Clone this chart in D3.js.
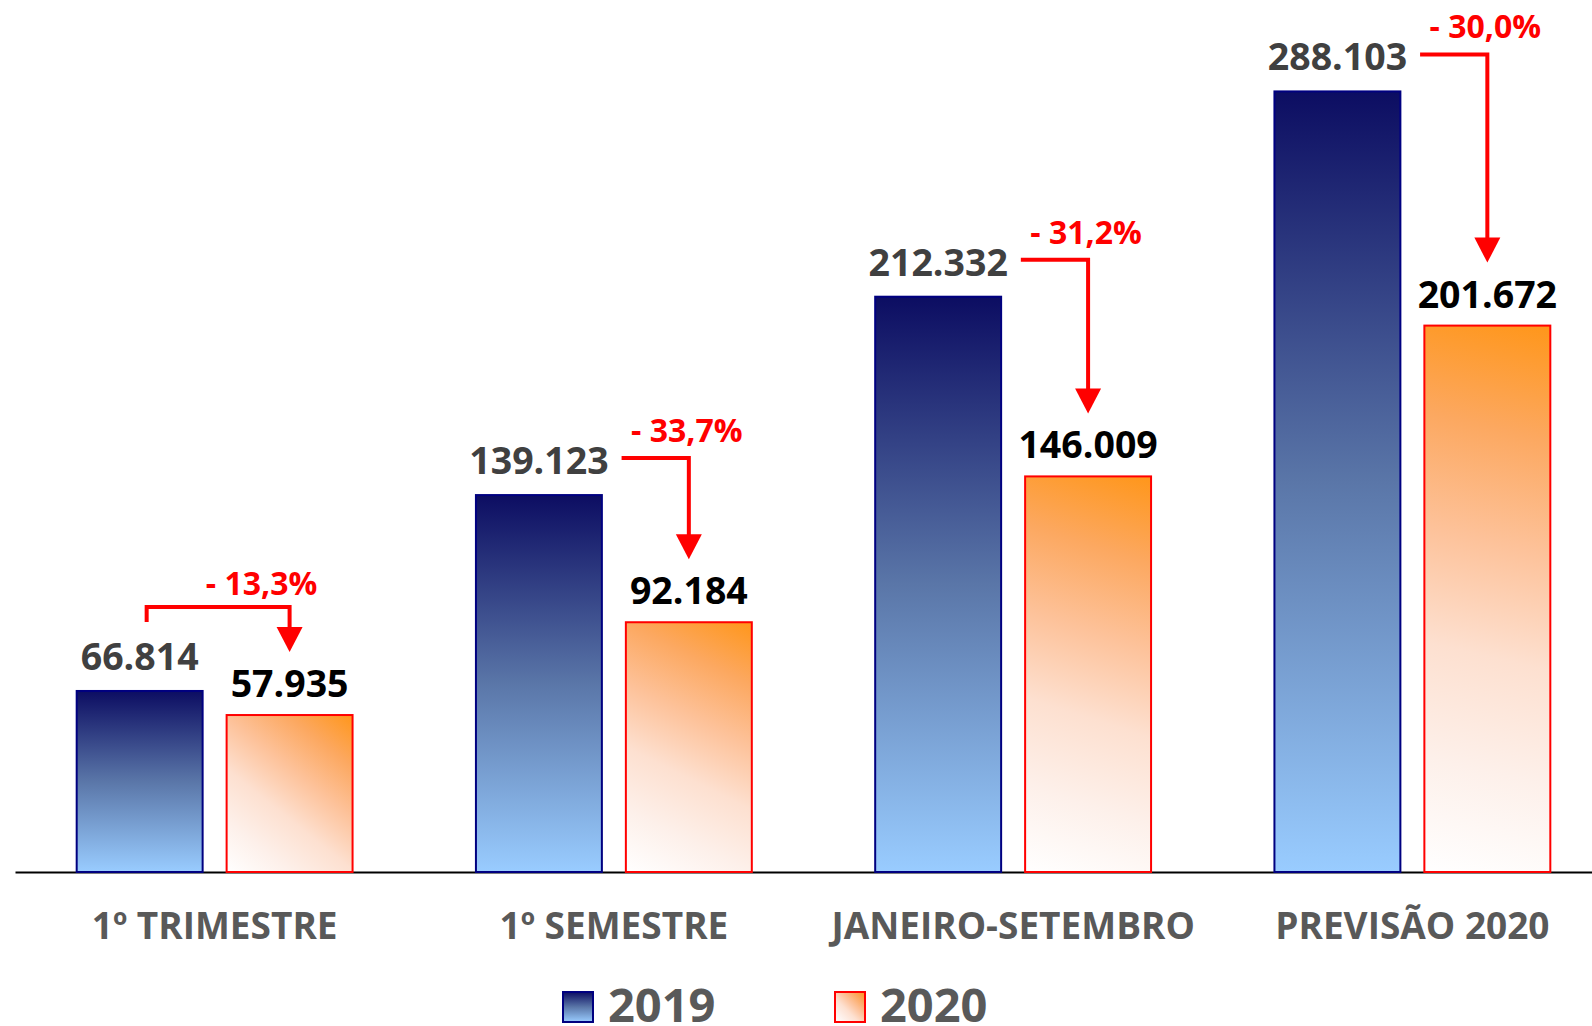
<!DOCTYPE html>
<html>
<head>
<meta charset="utf-8">
<script src="https://cdn.jsdelivr.net/npm/d3@7"></script>
<style>
  html, body { margin: 0; padding: 0; background: #fff; }
  svg { display: block; font-family: "Open Sans", Lato, sans-serif; font-weight: bold; }
</style>
</head>
<body>
<div id="chart"></div>
<script>
const categories = ['1º TRIMESTRE', '1º SEMESTRE', 'JANEIRO-SETEMBRO', 'PREVISÃO 2020'];
const series = ['2019', '2020'];
const values2019 = [66814, 139123, 212332, 288103];
const values2020 = [57935, 92184, 146009, 201672];
const changeLabels = ['- 13,3%', '- 33,7%', '- 31,2%', '- 30,0%'];

const conf = { width: 1592, height: 1026, base: 872, left: 15 };

const fmt = d3.formatLocale({ decimal: ',', thousands: '.', grouping: [3], currency: ['', ''] }).format(',d');

const svg = d3.select('#chart').append('svg')
    .attr('width', conf.width)
    .attr('height', conf.height);

const defs = svg.append('defs');

// vertical navy -> light blue
const g19 = defs.append('linearGradient')
    .attr('id', 'grad2019')
    .attr('x1', 0).attr('y1', 0).attr('x2', 0).attr('y2', 1);
g19.append('stop').attr('offset', '0%').attr('stop-color', '#0c0d62');
g19.append('stop').attr('offset', '50%').attr('stop-color', '#5a76a8');
g19.append('stop').attr('offset', '100%').attr('stop-color', '#99ccff');

function orangeGradient(id, x, y, w, h) {
    // white bottom-left corner -> orange top-right corner
    const g = defs.append('linearGradient')
        .attr('id', id)
        .attr('gradientUnits', 'userSpaceOnUse')
        .attr('x1', x).attr('y1', y + h)
        .attr('x2', x + w).attr('y2', y);
    [[0, '#ffffff'], [0.2, '#fdf0ea'], [0.4, '#fde0d0'], [0.6, '#fdc29a'], [0.8, '#fca860'], [1, '#ff961a']]
        .forEach(s => g.append('stop').attr('offset', s[0]).attr('stop-color', s[1]));
}

const x0 = d3.scaleBand()
    .domain(categories)
    .range([conf.left, 1612])
    .paddingInner(0.309)
    .paddingOuter(0.1545);

const x1 = d3.scaleBand()
    .domain(series)
    .range([0, x0.bandwidth()])
    .paddingInner(0.16);

const y = d3.scaleLinear()
    .domain([0, 320000])
    .range([conf.base, 5]);

const data = categories.map((c, i) => ({
    cat: c, i: i, v19: values2019[i], v20: values2020[i], pct: changeLabels[i]
}));

// axis line + category labels
const axis = svg.append('g')
    .attr('transform', `translate(0,${conf.base})`)
    .call(d3.axisBottom(x0).tickSize(0).tickSizeOuter(0).tickPadding(41));
axis.select('.domain').attr('stroke', '#000').attr('stroke-width', 2);
axis.selectAll('text')
    .attr('fill', '#595959')
    .style('font-family', '"Open Sans", Lato, sans-serif')
    .style('font-weight', 'bold')
    .style('font-size', '37px');

const groups = svg.selectAll('g.group')
    .data(data)
    .join('g')
    .attr('class', 'group')
    .attr('transform', d => `translate(${x0(d.cat)},0)`);

const bw = x1.bandwidth();

groups.append('rect')
    .attr('x', x1('2019'))
    .attr('y', d => y(d.v19))
    .attr('width', bw)
    .attr('height', d => y(0) - y(d.v19))
    .attr('fill', 'url(#grad2019)')
    .attr('stroke', '#000080')
    .attr('stroke-width', 2);

groups.each(function(d) {
    orangeGradient('grad2020_' + d.i, x1('2020'), y(d.v20), bw, y(0) - y(d.v20));
});

groups.append('rect')
    .attr('x', x1('2020'))
    .attr('y', d => y(d.v20))
    .attr('width', bw)
    .attr('height', d => y(0) - y(d.v20))
    .attr('fill', d => `url(#grad2020_${d.i})`)
    .attr('stroke', '#ff0000')
    .attr('stroke-width', 2);

// value labels
const lab19 = groups.append('text')
    .attr('x', x1('2019') + bw / 2)
    .attr('y', d => y(d.v19) - 21)
    .attr('text-anchor', 'middle')
    .attr('fill', '#404040')
    .style('font-size', '37.5px')
    .text(d => fmt(d.v19));

groups.append('text')
    .attr('x', x1('2020') + bw / 2)
    .attr('y', d => y(d.v20) - 18)
    .attr('text-anchor', 'middle')
    .attr('fill', '#000')
    .style('font-size', '37.5px')
    .text(d => fmt(d.v20));

// change arrows
lab19.each(function(d) {
    const g = d3.select(this.parentNode);
    const half = this.getComputedTextLength() / 2;
    const c19 = x1('2019') + bw / 2;
    const vx = x1('2020') + bw / 2;
    const tipY = y(d.v20) - 63;
    let hy = y(d.v19) - 37;
    let path, tx, ty;
    if (hy >= tipY - 25) {
        // not enough room beside the label: route over it
        const top = y(d.v19) - 47;
        hy = top - 37;
        path = `M${c19 + 7},${top - 22}V${hy}H${vx}V${tipY - 24}`;
        tx = vx - 28; ty = hy - 12;
    } else {
        path = `M${c19 + half + 13},${hy}H${vx}V${tipY - 24}`;
        tx = vx - 2; ty = hy - 16;
    }
    g.append('path')
        .attr('d', path)
        .attr('fill', 'none')
        .attr('stroke', '#ff0000')
        .attr('stroke-width', 4);
    g.append('path')
        .attr('d', `M${vx - 13},${tipY - 25}H${vx + 13}L${vx},${tipY}Z`)
        .attr('fill', '#ff0000');
    g.append('text')
        .attr('x', tx)
        .attr('y', ty)
        .attr('text-anchor', 'middle')
        .attr('fill', '#ff0000')
        .style('font-size', '32px')
        .text(d.pct);
});

// legend
const legend = svg.append('g')
    .attr('transform', 'translate(563,992)');
const items = legend.selectAll('g')
    .data(series)
    .join('g')
    .attr('transform', (d, i) => `translate(${i * 272},0)`);

orangeGradient('gradLegend', 0, 0, 30, 30);

items.append('rect')
    .attr('width', 30)
    .attr('height', 30)
    .attr('fill', (d, i) => i === 0 ? 'url(#grad2019)' : 'url(#gradLegend)')
    .attr('stroke', (d, i) => i === 0 ? '#000080' : '#ff0000')
    .attr('stroke-width', 2);

items.append('text')
    .attr('x', 45)
    .attr('y', 30)
    .attr('fill', '#595959')
    .style('font-size', '47px')
    .text(d => d);
</script>
</body>
</html>
